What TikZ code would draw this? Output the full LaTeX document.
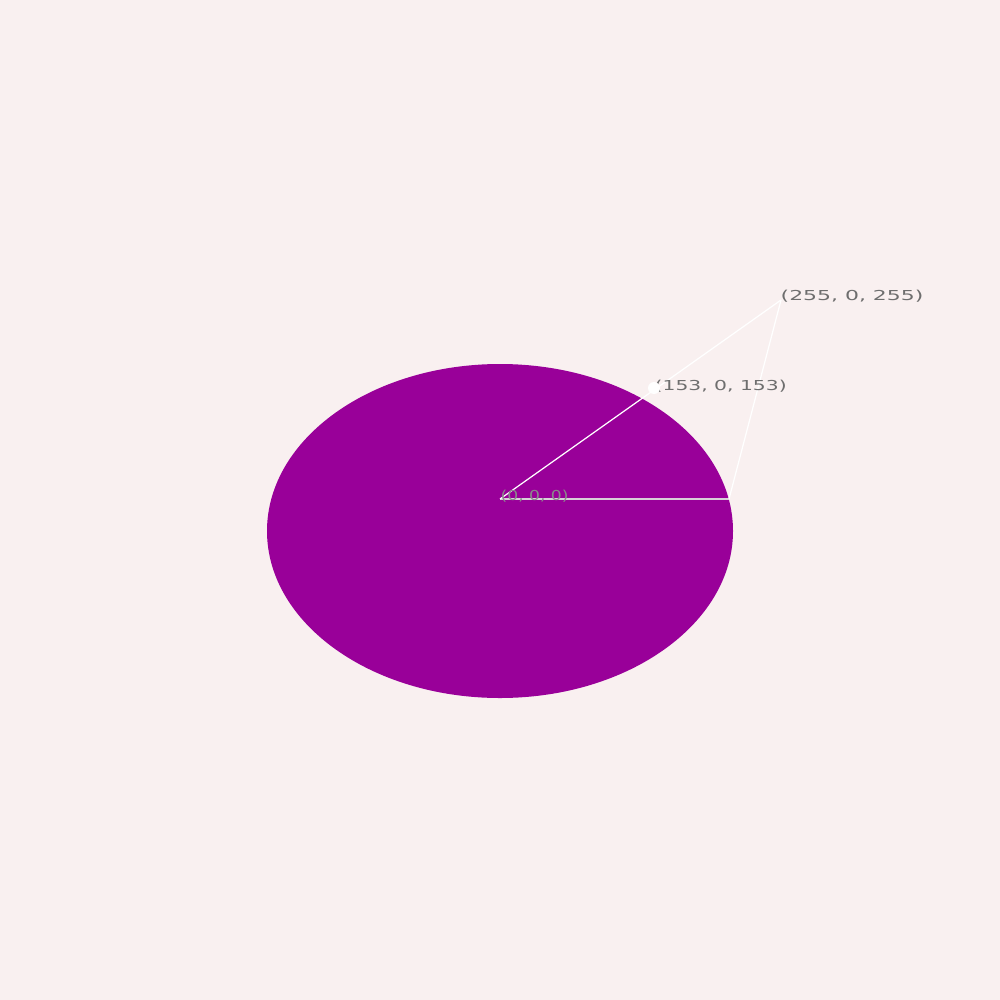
\documentclass[tikz,border=0pt]{standalone}
\usepackage{fontspec}
\newfontfamily\lblfont{DejaVu Sans}
\usepackage{graphicx}
\definecolor{bg}{HTML}{F9F0F0}
\definecolor{pie}{HTML}{990099}
\definecolor{lbl}{HTML}{6E6E6E}
\definecolor{lblin}{HTML}{8A8A8A}
\definecolor{hline}{HTML}{D8D0D8}
\begin{document}
\begin{tikzpicture}[x=0.01cm,y=-0.01cm,
  lbltext/.style={inner sep=0pt,anchor=west,font=\lblfont\fontsize{3.9pt}{4pt}\selectfont},
  link/.style={draw=white,line width=0.35pt}]
\fill[bg] (0,0) rectangle (1000,1000);
\useasboundingbox (0,0) rectangle (1000,1000);
\fill[pie] (500,531) ellipse [x radius=233, y radius=167];
\coordinate (o) at (500,499);
\coordinate (e) at (729,499);
\coordinate (m) at (654,388);
\coordinate (t) at (781,300);
\draw[hline,line width=0.5pt] (o) -- (e);
\draw[link] (o) -- (t);
\draw[link] (e) -- (t);
\node[lbltext,text=lblin] (l0) at (500,496) {\scalebox{1.25}[1]{(0, 0, 0)}};
\node[lbltext,text=lbl] (l1) at (654,386) {\scalebox{1.48}[1]{(153, 0, 153)}};
\node[lbltext,text=lbl] (l2) at (780,296) {\scalebox{1.6}[1]{(255, 0, 255)}};
\fill[white] (m) circle [radius=1.7pt];
\end{tikzpicture}
\end{document}
